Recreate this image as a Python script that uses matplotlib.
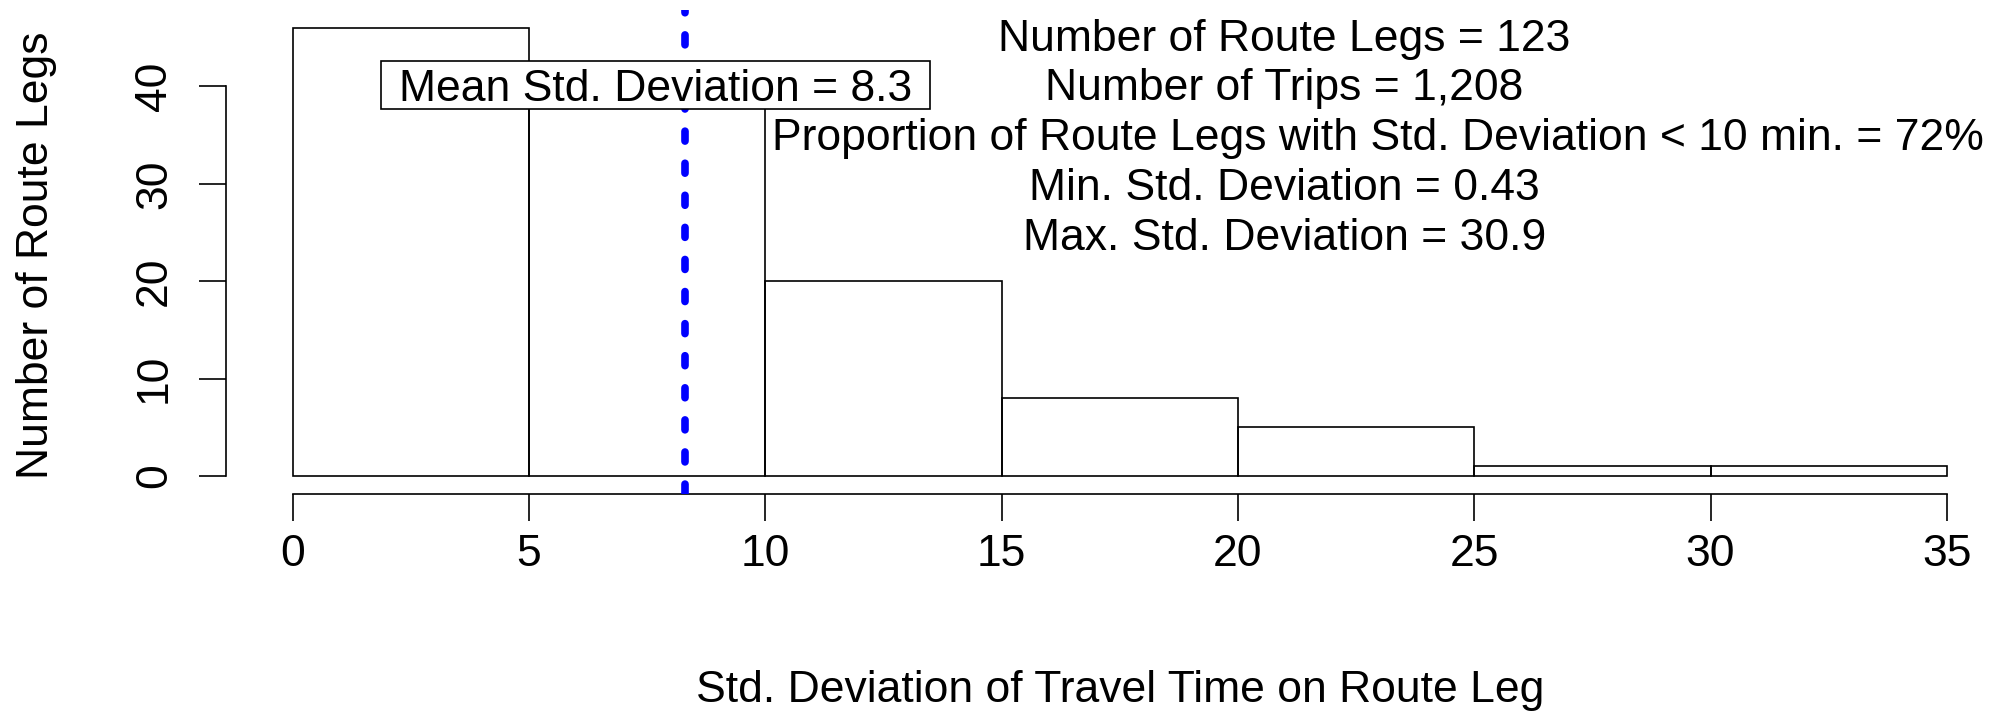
import matplotlib
matplotlib.use("Agg")
import matplotlib.pyplot as plt
from matplotlib.patches import Rectangle

plt.rcParams["font.family"] = ["Liberation Sans", "DejaVu Sans"]

# Data ---------------------------------------------------------------------
bin_edges = [0, 5, 10, 15, 20, 25, 30, 35]
counts = [46, 42, 20, 8, 5, 1, 1]
mean_sd = 8.3
x_ticks = [0, 5, 10, 15, 20, 25, 30, 35]
y_ticks = [0, 10, 20, 30, 40]

stats_lines = [
    "Number of Route Legs = 123",
    "Number of Trips = 1,208",
    "Proportion of Route Legs with Std. Deviation < 10 min. = 72%",
    "Min. Std. Deviation = 0.43",
    "Max. Std. Deviation = 30.9",
]
stats_x = [20.98, 20.98, 22.96, 20.98, 20.98]
stats_y = [45.3, 40.2, 35.1, 30.0, 24.9]

mean_label = f"Mean Std. Deviation = {mean_sd}"
x_label = "Std. Deviation of Travel Time on Route Leg"
y_label = "Number of Route Legs"

FS = 32
LW = 1.2

# Figure -------------------------------------------------------------------
fig = plt.figure(figsize=(20.03, 7.11), dpi=100)
ax = fig.add_axes([0.1130, 0.3052, 0.892, 0.6807])

widths = [b - a for a, b in zip(bin_edges[:-1], bin_edges[1:])]
ax.bar(bin_edges[:-1], counts, width=widths, align="edge", fill=False,
       edgecolor="black", linewidth=LW, zorder=2)

ax.axvline(mean_sd, color="blue", linewidth=5.5, linestyle=(0, (1.3, 2.9)),
           dash_capstyle="round", zorder=3)

# mean label box (legend-like, white fill over the bars)
box_x0, box_x1 = 1.87, 13.49
box_y0, box_y1 = 37.7, 42.6
ax.add_patch(Rectangle((box_x0, box_y0), box_x1 - box_x0, box_y1 - box_y0,
                       facecolor="white", edgecolor="black", linewidth=LW, zorder=4))
ax.text((box_x0 + box_x1) / 2, (box_y0 + box_y1) / 2, mean_label, fontsize=FS,
        ha="center", va="center_baseline", zorder=5)

for txt, tx, ty in zip(stats_lines, stats_x, stats_y):
    ax.text(tx, ty, txt, fontsize=FS, ha="center", va="center_baseline",
            zorder=5, clip_on=False)

# R-style axes -------------------------------------------------------------
ax.set_xlim(-1.4, 36.4)
ax.set_ylim(-1.84, 47.84)
for side in ("top", "right"):
    ax.spines[side].set_visible(False)
ax.spines["bottom"].set_bounds(x_ticks[0], x_ticks[-1])
ax.spines["left"].set_bounds(y_ticks[0], y_ticks[-1])
for side in ("bottom", "left"):
    ax.spines[side].set_linewidth(LW)

ax.set_xticks(x_ticks)
ax.set_yticks(y_ticks)
ax.set_xticklabels([str(v) for v in x_ticks])
ax.set_yticklabels([str(v) for v in y_ticks], rotation=90, va="center")
ax.tick_params(axis="both", length=19.5, width=LW, labelsize=FS)
ax.tick_params(axis="x", pad=9)
ax.tick_params(axis="y", pad=17.5)

fig.text(0.5595, 0.0295, x_label, fontsize=FS, ha="center", va="center")
fig.text(0.018, 0.641, y_label, fontsize=FS, ha="center", va="center", rotation=90)

fig.savefig("out.png", dpi=100)
